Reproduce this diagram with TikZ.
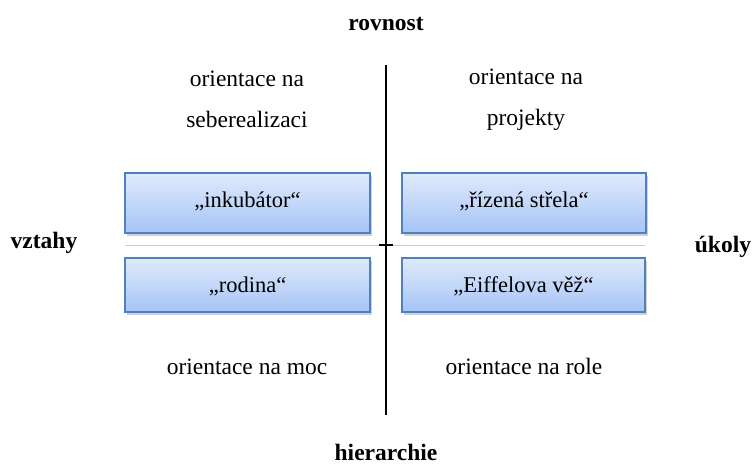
\documentclass[tikz,border=0pt]{standalone}
\usepackage{fontspec}
\setmainfont{Liberation Serif}
\usetikzlibrary{shadows}
\definecolor{boxtop}{HTML}{E0EAFC}
\definecolor{boxbot}{HTML}{A6C4F6}
\definecolor{boxline}{HTML}{4F81BD}
\tikzset{
  x=1pt, y=-1pt,
  lbl/.style={font=\fontsize{23.5}{28}\selectfont, inner sep=0pt, anchor=base},
  boxlbl/.style={font=\fontsize{22.5}{27}\selectfont, inner sep=0pt, anchor=base},
  axis/.style={font=\fontsize{23.5}{28}\selectfont\bfseries, inner sep=0pt, anchor=base},
  quad/.style={rectangle, draw=boxline, line width=1.4pt,
    top color=boxtop, bottom color=boxbot, inner sep=0pt,
    drop shadow={shadow xshift=1.5pt, shadow yshift=-2.5pt, opacity=0.3, fill=black!60}},
}
\begin{document}
\begin{tikzpicture}
\useasboundingbox (0,0) rectangle (755,464);
% axes
\coordinate (vt) at (386,65);
\coordinate (vb) at (386,415);
\coordinate (hl) at (125,245);
\coordinate (hr) at (645,245);
\coordinate (tl) at (379,245);
\coordinate (tr) at (393,245);
\draw[black!20, line width=0.8pt] (hl) -- (hr);
\draw[line width=1.4pt] (vt) -- (vb);
\draw[line width=1.2pt] (tl) -- (tr);
% culture boxes
\node[quad, minimum width=245pt, minimum height=60pt] (inc) at (247.5,203) {};
\node[quad, minimum width=244pt, minimum height=60pt] (mis) at (524,203) {};
\node[quad, minimum width=245pt, minimum height=54pt] (fam) at (247.5,285) {};
\node[quad, minimum width=243pt, minimum height=54pt] (eif) at (523.5,285) {};
\node[boxlbl] (inct) at (247.5,207) {„inkubátor“};
\node[boxlbl] (mist) at (524,207) {„řízená střela“};
\node[boxlbl] (famt) at (247.5,292) {„rodina“};
\node[boxlbl] (eift) at (523.5,292) {„Eiffelova věž“};
% pole labels
\node[axis] (top) at (386,30) {rovnost};
\node[axis] (bottom) at (386,460) {hierarchie};
\node[axis] (left) at (44,248) {vztahy};
\node[axis] (right) at (723,252) {úkoly};
% quadrant orientations
\node[lbl] (q1a) at (247,86) {orientace na};
\node[lbl] (q1b) at (247,127) {seberealizaci};
\node[lbl] (q2a) at (526,84) {orientace na};
\node[lbl] (q2b) at (526,125) {projekty};
\node[lbl] (q3) at (247,374) {orientace na moc};
\node[lbl] (q4) at (524,374) {orientace na role};
\end{tikzpicture}
\end{document}
